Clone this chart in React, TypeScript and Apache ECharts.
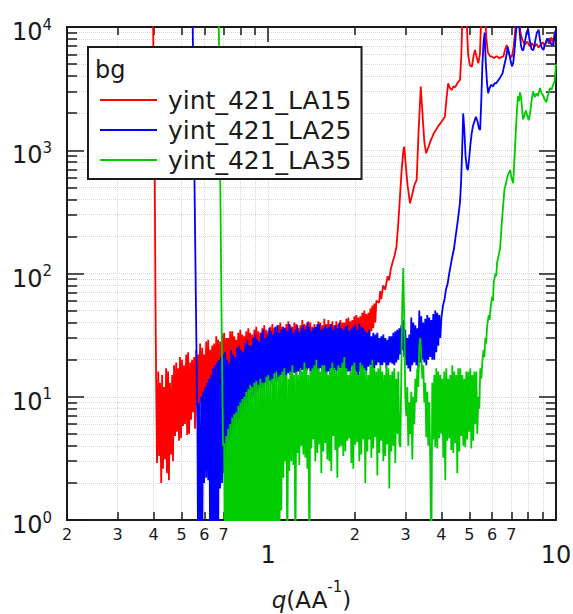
import React, { useEffect, useRef } from "react";
import * as echarts from "echarts";

const FONT = '"DejaVu Sans", Verdana, sans-serif';
const INK = "#1a1a1a";

// ---------- data ----------
const SERIES_NAMES = ["yint_421_LA15", "yint_421_LA25", "yint_421_LA35"];
const SERIES_COLORS = ["#ff0000", "#0000ff", "#00cc00"];

// shared q grid (AA^-1) for the noisy plateau regions
const Q = [
  0.408, 0.411, 0.415, 0.418, 0.421, 0.425, 0.428, 0.431, 0.435, 0.438,
  0.442, 0.445, 0.449, 0.452, 0.456, 0.460, 0.464, 0.467, 0.471, 0.475,
  0.479, 0.482, 0.486, 0.490, 0.494, 0.498, 0.502, 0.506, 0.510, 0.514,
  0.519, 0.523, 0.527, 0.531, 0.536, 0.540, 0.544, 0.548, 0.553, 0.557,
  0.562, 0.566, 0.571, 0.575, 0.580, 0.585, 0.590, 0.594, 0.599, 0.604,
  0.609, 0.614, 0.619, 0.624, 0.629, 0.634, 0.639, 0.644, 0.649, 0.654,
  0.660, 0.665, 0.670, 0.675, 0.681, 0.686, 0.692, 0.697, 0.703, 0.709,
  0.715, 0.720, 0.726, 0.732, 0.738, 0.744, 0.750, 0.756, 0.762, 0.768,
  0.774, 0.780, 0.787, 0.793, 0.800, 0.806, 0.813, 0.819, 0.826, 0.832,
  0.839, 0.846, 0.853, 0.859, 0.866, 0.873, 0.880, 0.887, 0.895, 0.902,
  0.909, 0.916, 0.924, 0.931, 0.939, 0.946, 0.954, 0.961, 0.969, 0.977,
  0.985, 0.993, 1.001, 1.009, 1.017, 1.025, 1.034, 1.042, 1.050, 1.058,
  1.067, 1.076, 1.085, 1.093, 1.102, 1.111, 1.120, 1.129, 1.138, 1.147,
  1.156, 1.165, 1.175, 1.184, 1.194, 1.203, 1.213, 1.223, 1.233, 1.243,
  1.253, 1.263, 1.273, 1.283, 1.294, 1.304, 1.314, 1.325, 1.336, 1.346,
  1.357, 1.368, 1.379, 1.390, 1.401, 1.412, 1.424, 1.435, 1.447, 1.458,
  1.470, 1.482, 1.494, 1.506, 1.518, 1.530, 1.542, 1.554, 1.567, 1.580,
  1.593, 1.605, 1.618, 1.631, 1.644, 1.657, 1.671, 1.684, 1.698, 1.711,
  1.725, 1.739, 1.753, 1.767, 1.781, 1.795, 1.810, 1.824, 1.839, 1.854,
  1.869, 1.884, 1.899, 1.914, 1.930, 1.945, 1.961, 1.976, 1.992, 2.008,
  2.025, 2.041, 2.057, 2.073, 2.090, 2.107, 2.124, 2.141, 2.158, 2.175,
  2.193, 2.211, 2.229, 2.247, 2.265, 2.283, 2.301, 2.319, 2.338, 2.357,
  2.376, 2.395, 2.414, 2.433, 2.453, 2.472, 2.492, 2.512, 2.533, 2.553,
  2.573, 2.594, 2.615, 2.636, 2.657, 2.678, 2.700, 2.721, 2.743, 2.765,
  2.787, 2.809, 2.832, 2.855, 2.878, 2.901, 2.924, 2.947, 2.971, 2.995,
  3.019, 3.043, 3.068, 3.092, 3.117, 3.142, 3.168, 3.193, 3.219, 3.245,
  3.271, 3.297, 3.323, 3.350, 3.377, 3.404, 3.431, 3.459, 3.487, 3.515,
  3.543, 3.571, 3.600, 3.629, 3.658, 3.687, 3.717, 3.747, 3.777, 3.807,
  3.838, 3.869, 3.900, 3.931, 3.963, 3.995, 4.027, 4.059, 4.092, 4.125,
  4.158, 4.191, 4.225, 4.259, 4.293, 4.327, 4.362, 4.397, 4.433, 4.468,
  4.504, 4.540, 4.577, 4.614, 4.651, 4.688, 4.726, 4.764, 4.802, 4.840,
  4.879, 4.918, 4.958, 4.998, 5.038, 5.078, 5.119, 5.160, 5.202, 5.244,
  5.286, 5.328, 5.371, 5.414, 5.457, 5.501, 5.545,
];

// ---- red: yint_421_LA15 ----
const RED_SPIKE = [[0.397, 20000], [0.403, 1000], [0.406, 60]];
const RED_NOISE_START = 0;
const RED_NOISE = [
  14, 2.9, 16, 3.3, 13, 2.0, 15, 2.6, 12, 3.1, 17, 2.4, 16, 2.1, 13, 3.4, 15, 3.0, 18, 4.8,
  19, 5.2, 17, 4.4, 21, 4.6, 20, 5.8, 18, 6.0, 22, 4.9, 23, 5.0, 19, 6.5, 20, 7.5, 21, 5.5,
  24, 8.5, 22, 7.2, 27, 9.0, 25, 8.0, 22, 10, 28, 8.8, 29, 9.5, 24, 10.5, 26, 11, 27, 9.2,
  31, 10.5, 29, 12, 28, 11, 32, 12.5, 33, 11, 30, 13.5, 30, 12.5, 34, 11.5, 34, 13, 31, 12,
  29, 12, 33, 14, 35, 13, 32, 12.5, 31, 13, 34, 14.5, 36, 12.8, 33, 14, 32, 13.5, 35, 15,
  37, 15, 34, 13.5, 33, 14, 36, 15.5, 38, 14.5, 35, 16, 34, 14, 37, 15, 39, 16, 36, 14.5,
  35, 15, 38, 16, 40, 16.5, 37, 15.5, 36, 15, 39, 17, 41, 16, 38, 15.5, 37, 16, 40, 17.5,
  39, 17.5, 36, 16, 38, 16.5, 42, 17, 39, 18, 38, 16.5, 41, 17.5, 40, 18, 37, 16, 39, 17,
  37, 17, 41, 18, 40, 18.5, 38, 16.5, 43, 17, 39, 18, 42, 19, 39, 17.5, 41, 19, 38, 18,
  41, 18, 39, 19.5, 42, 20, 40, 18.5, 40, 19, 43, 20, 44, 21, 41, 19.5, 42, 22, 45, 21,
  46, 24, 44, 23, 45, 26, 48, 25, 50, 28, 47, 30, 48, 32, 52, 34, 55, 36, 57, 40, 60,
];
const RED_TAIL = [
  [2.43, 58], [2.45, 72], [2.47, 62], [2.51, 80], [2.55, 74], [2.60, 95], [2.63, 88],
  [2.67, 110], [2.71, 125], [2.75, 140], [2.79, 165], [2.83, 250], [2.87, 420],
  [2.91, 700], [2.95, 1000], [2.97, 1070], [3.00, 800], [3.05, 520], [3.11, 371],
  [3.16, 430], [3.22, 520], [3.28, 574], [3.33, 1400], [3.39, 3280], [3.44, 1900],
  [3.49, 1150], [3.54, 945], [3.60, 1050], [3.66, 1180], [3.72, 1290], [3.76, 1370],
  [3.84, 1480], [3.92, 1600], [4.00, 1700], [4.07, 1800], [4.11, 1870], [4.17, 2700],
  [4.22, 3490], [4.28, 3200], [4.34, 3080], [4.40, 3300], [4.47, 3250], [4.54, 3500],
  [4.60, 3650], [4.64, 3720], [4.69, 6000], [4.74, 15000], [4.82, 16000], [4.89, 12000],
  [4.95, 6000], [5.02, 4900], [5.10, 4760], [5.17, 5800], [5.23, 6500], [5.30, 5700],
  [5.37, 5070], [5.44, 6000], [5.50, 12000], [5.58, 16000], [5.66, 14000], [5.73, 8000],
  [5.80, 6200], [5.90, 5800], [5.98, 5740], [6.10, 5600], [6.22, 5800], [6.34, 5600],
  [6.47, 5700], [6.57, 5800], [6.65, 6500], [6.74, 7150], [6.82, 6400], [6.92, 5800],
  [7.02, 5700], [7.12, 6800], [7.22, 9500], [7.30, 15000], [7.42, 14000], [7.52, 9000],
  [7.65, 7800], [7.80, 7200], [7.95, 7600], [8.10, 7000], [8.25, 7400], [8.40, 6900],
  [8.55, 7300], [8.70, 6800], [8.85, 7200], [9.00, 7500], [9.15, 7000], [9.30, 7850],
  [9.45, 7300], [9.60, 8200], [9.75, 7350], [9.90, 9000], [10.0, 9500],
];

// ---- blue: yint_421_LA25 ----
const BLUE_SPIKE = [[0.545, 20000], [0.553, 1000], [0.562, 40], [0.568, 5]];
const BLUE_NOISE_START = 42;
const BLUE_NOISE = [
  0.4, 9, 0.4, 10, 0.5, 11, 2.0, 12, 2.2, 13, 2.1, 14, 0.4, 15, 0.4, 17, 0.4, 18, 0.6, 19,
  0.5, 20, 1.8, 21, 2.0, 22, 2.4, 23, 2.6, 20, 3.5, 19, 4.0, 24, 4.4, 22, 5.0, 21, 5.5, 25,
  6.0, 26, 6.5, 24, 7.0, 23, 7.5, 27, 8.0, 29, 8.2, 26, 9.0, 26, 9.5, 30, 10, 32, 10.5, 29,
  11, 28, 12, 33, 11.5, 35, 12, 30, 13, 32, 12.5, 36, 13.5, 34, 12.5, 32, 14, 37, 13, 38,
  13.5, 33, 14.5, 35, 15, 37, 14, 36, 14, 34, 15.5, 39, 15, 36, 16, 33, 15.5, 35, 15, 38,
  16, 33, 15, 36, 16.5, 38, 15.5, 35, 15.5, 40, 17, 37, 16, 34, 15, 36, 16, 37, 16.5, 39,
  15, 39, 17, 35, 16, 36, 15.5, 38, 14.5, 36, 16, 37, 15, 39, 17, 35, 16.5, 38, 16, 36,
  16.5, 40, 17, 36, 17, 35, 15.5, 37, 15.5, 38, 16, 34, 16, 36, 17.5, 37, 16.5, 39, 15, 35,
  15, 39, 16, 37, 17, 36, 16.5, 34, 16, 33, 17.5, 35, 18, 31, 17, 33, 17, 32, 18, 33,
  19, 30, 18, 31, 18, 32, 19, 30, 17, 29, 18, 31, 19, 31, 18.5, 33, 18, 34, 19, 35,
  20, 36, 22, 38, 24, 42, 21, 35, 18, 30, 17, 32, 16, 44, 18, 40, 19, 38, 18, 36,
  17, 50, 19, 45, 20, 40, 19, 43, 18, 46, 20, 44, 21, 42, 20, 47, 20, 50, 23, 48,
  26, 46, 30,
];
const BLUE_TAIL = [
  [4.00, 44], [4.05, 55], [4.10, 62], [4.15, 75], [4.20, 82], [4.25, 98], [4.31, 118],
  [4.37, 140], [4.42, 158], [4.48, 200], [4.54, 250], [4.60, 320], [4.64, 380],
  [4.68, 550], [4.72, 1000], [4.76, 1990], [4.80, 1500], [4.85, 900], [4.90, 720],
  [4.94, 690], [4.99, 850], [5.04, 1100], [5.09, 1350], [5.14, 1550], [5.20, 1700],
  [5.27, 1870], [5.34, 1700], [5.40, 1500], [5.45, 1460], [5.50, 2500], [5.55, 5000],
  [5.60, 7400], [5.65, 9000], [5.70, 5200], [5.76, 3500], [5.81, 2900], [5.88, 3200],
  [5.96, 3400], [6.05, 3300], [6.12, 3500], [6.20, 3490], [6.30, 3700], [6.40, 3900],
  [6.52, 4200], [6.60, 4800], [6.70, 5600], [6.80, 6900], [6.88, 6000], [6.96, 5300],
  [7.03, 4800], [7.10, 5070], [7.18, 6500], [7.26, 9000], [7.33, 12000], [7.40, 13000],
  [7.48, 9000], [7.56, 7000], [7.63, 6500], [7.70, 6500], [7.80, 7600], [7.90, 9000],
  [8.00, 9600], [8.10, 7800], [8.22, 6600], [8.35, 6500], [8.45, 7500], [8.58, 9000],
  [8.70, 9500], [8.80, 7800], [8.92, 6800], [9.05, 6500], [9.15, 7200], [9.28, 7800],
  [9.40, 8000], [9.52, 7600], [9.65, 7200], [9.80, 7200], [9.90, 8500], [10.0, 9500],
];

// ---- green: yint_421_LA35 ----
const GREEN_SPIKE = [[0.672, 20000], [0.680, 1000], [0.689, 40], [0.697, 4]];
const GREEN_NOISE_START = 68;
const GREEN_NOISE = [
  4.2, 0.3, 4.8, 0.3, 5.5, 0.4, 6.0, 0.3, 6.8, 0.3, 7.2, 0.4, 7.5, 0.3, 8.4, 0.3, 9.0, 0.4, 9.6, 0.3,
  10, 0.3, 11, 0.4, 11.5, 0.3, 12.5, 0.3, 12, 0.4, 13, 0.3, 13.5, 0.3, 12.5, 0.4, 14, 0.3, 13, 0.3,
  13, 0.4, 14.5, 0.3, 15, 0.3, 13.5, 0.4, 14, 0.3, 15.5, 0.3, 16, 0.4, 14.5, 0.3, 15, 1.2, 16, 2.2,
  17, 3.0, 15, 0.4, 14, 2.5, 16, 3.0, 18, 2.8, 15, 0.4, 16, 3.5, 15, 2.8, 17, 4.0, 16, 3.4,
  19, 3.2, 17, 2.6, 15, 0.4, 16, 3.8, 17, 4.5, 18, 3.0, 20, 3.5, 17, 4.1, 16, 2.4, 18, 3.6,
  18, 4.2, 16, 3.1, 15, 3.0, 17, 2.5, 19, 4.8, 17, 3.7, 16, 2.2, 18, 3.9, 17, 4.0, 19, 3.3,
  21, 3.6, 17, 4.4, 15, 4.6, 16, 2.9, 18, 2.6, 19, 4.1, 16, 4.3, 15, 3.0, 19, 3.4, 18, 4.5,
  17, 2.0, 16, 3.6, 15, 4.5, 18, 3.2, 20, 3.8, 17, 4.7, 16, 2.3, 17, 3.5, 18, 4.4, 16, 3.0,
  15, 3.3, 18, 4.1, 17, 1.8, 15, 3.6, 16, 4.0, 17, 2.9, 14, 5.0, 16, 4.2,
  3.9, 15, 60, 111, 40, 10, 7.0, 12, 4.0, 9, 5.0, 11, 3.1, 10, 6.0, 14,
  9, 17, 12, 25, 30, 22, 14, 18, 9, 13, 4.7, 11, 4.0, 9, 3.0, 0.4,
  13, 4.5, 15, 3.9, 17, 3.8, 16, 4.6, 15, 5.0, 14, 3.2, 16, 2.1, 17, 4.4, 14, 4.6, 15, 3.7,
  18, 3.5, 16, 4.2, 15, 2.4, 17, 3.6, 17, 4.8, 15, 4.0, 14, 3.9, 16, 4.5, 16, 5.2, 17, 3.8,
  15, 4.4, 16, 6.0, 16, 5.0, 10, 8, 17, 14, 19,
];
const GREEN_TAIL = [
  [5.60, 24], [5.64, 21], [5.68, 30], [5.72, 27], [5.76, 37], [5.84, 46], [5.88, 42],
  [5.92, 52], [6.00, 65], [6.04, 60], [6.08, 85], [6.16, 100], [6.20, 95], [6.24, 122],
  [6.32, 140], [6.39, 157], [6.46, 230], [6.54, 340], [6.62, 480], [6.68, 520],
  [6.74, 574], [6.82, 640], [6.93, 690], [7.00, 600], [7.10, 540], [7.18, 900],
  [7.26, 1500], [7.32, 2150], [7.38, 2750], [7.44, 2500], [7.50, 2950], [7.56, 2700],
  [7.62, 2200], [7.68, 1780], [7.76, 1900], [7.86, 2100], [7.95, 1900], [8.04, 1750],
  [8.13, 2000], [8.22, 2500], [8.32, 3000], [8.45, 2700], [8.55, 2900], [8.66, 2750],
  [8.80, 3200], [8.90, 2900], [9.01, 2800], [9.12, 2600], [9.25, 2450], [9.38, 2800],
  [9.53, 3200], [9.65, 3100], [9.77, 3400], [9.88, 3600], [10.0, 5000],
];

// axis tick / label values
const X_MINOR_TICKS = [0.2, 0.3, 0.4, 0.5, 0.6, 0.7, 0.8, 0.9, 2, 3, 4, 5, 6, 7, 8, 9];
const X_MAJOR_TICKS = [1, 10];
const X_SMALL_LABELS = [0.2, 0.3, 0.4, 0.5, 0.6, 0.7, 2, 3, 4, 5, 6, 7];
const Y_MINOR_TICKS = [
  2, 3, 4, 5, 6, 7, 8, 9,
  20, 30, 40, 50, 60, 70, 80, 90,
  200, 300, 400, 500, 600, 700, 800, 900,
  2000, 3000, 4000, 5000, 6000, 7000, 8000, 9000,
];
const Y_MAJOR_TICKS = [1, 10, 100, 1000, 10000];

function build(spike: number[][], start: number, noise: number[], tail: number[][]) {
  const pts: number[][] = spike.map((p) => [p[0], p[1]]);
  noise.forEach((v, i) => pts.push([Q[start + i], v]));
  tail.forEach((p) => pts.push([p[0], p[1]]));
  return pts;
}

export default function App() {
  const ref = useRef<HTMLDivElement>(null);

  useEffect(() => {
    document.body.style.margin = "0";
    if (!ref.current) return;
    const chart = echarts.init(ref.current, undefined, { renderer: "svg" });

    const datasets = [
      build(RED_SPIKE, RED_NOISE_START, RED_NOISE, RED_TAIL),
      build(BLUE_SPIKE, BLUE_NOISE_START, BLUE_NOISE, BLUE_TAIL),
      build(GREEN_SPIKE, GREEN_NOISE_START, GREEN_NOISE, GREEN_TAIL),
    ];

    const tickLine = { color: INK, width: 1.5 };
    const frame = { color: INK, width: 2 };
    const gridLine = { color: "#d6d6d6", type: "dotted" as const, width: 1 };
    const logX = { type: "log" as const, logBase: 10, min: 0.2, max: 10, gridIndex: 0 };
    const logY = { type: "log" as const, logBase: 10, min: 1, max: 10000, gridIndex: 0 };
    const off = { show: false };

    const option: any = {
      animation: false,
      backgroundColor: "#ffffff",
      textStyle: { fontFamily: FONT },
      grid: {
        left: 67,
        right: 17,
        top: 27,
        bottom: 94,
        containLabel: false,
        outerBoundsMode: "none",
        show: false,
      },
      xAxis: [
        {
          ...logX,
          position: "bottom",
          axisLine: { show: true, onZero: false, lineStyle: frame },
          axisTick: { show: true, inside: true, length: 8, customValues: X_MINOR_TICKS, lineStyle: tickLine },
          axisLabel: {
            show: true,
            customValues: X_SMALL_LABELS,
            formatter: (v: number) => String(v < 1 ? Math.round(v * 10) : Math.round(v)),
            fontSize: 16,
            lineHeight: 16,
            margin: 6,
            color: INK,
            fontFamily: FONT,
          },
          splitLine: { show: true, lineStyle: gridLine },
          minorTick: off,
          minorSplitLine: off,
          name: "{i|q}{n|(AA}{s|-1}{n|)}",
          nameLocation: "middle",
          nameGap: 59,
          nameTextStyle: {
            color: INK,
            fontFamily: FONT,
            rich: {
              i: { fontSize: 23, fontStyle: "italic", lineHeight: 42, fontFamily: FONT, color: INK },
              n: { fontSize: 23, lineHeight: 42, fontFamily: FONT, color: INK },
              s: { fontSize: 15, verticalAlign: "top", fontFamily: FONT, color: INK },
            },
          },
        },
        {
          ...logX,
          position: "bottom",
          axisLine: { show: false, onZero: false },
          axisTick: { show: true, inside: true, length: 15, customValues: X_MAJOR_TICKS, lineStyle: tickLine },
          axisLabel: {
            show: true,
            customValues: X_MAJOR_TICKS,
            formatter: (v: number) => String(Math.round(v)),
            fontSize: 24,
            lineHeight: 24,
            margin: 23,
            color: INK,
            fontFamily: FONT,
          },
          splitLine: { show: true, lineStyle: gridLine },
          minorTick: off,
          minorSplitLine: off,
        },
        {
          ...logX,
          position: "top",
          axisLine: { show: true, onZero: false, lineStyle: frame },
          axisTick: { show: true, inside: true, length: 8, customValues: X_MINOR_TICKS, lineStyle: tickLine },
          axisLabel: off,
          splitLine: off,
          minorTick: off,
        },
        {
          ...logX,
          position: "top",
          axisLine: { show: false, onZero: false },
          axisTick: { show: true, inside: true, length: 15, customValues: X_MAJOR_TICKS, lineStyle: tickLine },
          axisLabel: off,
          splitLine: off,
          minorTick: off,
        },
      ],
      yAxis: [
        {
          ...logY,
          position: "left",
          axisLine: { show: true, onZero: false, lineStyle: frame },
          axisTick: { show: true, inside: true, length: 10, customValues: Y_MINOR_TICKS, lineStyle: tickLine },
          axisLabel: off,
          splitLine: { show: true, lineStyle: gridLine },
          minorTick: off,
          minorSplitLine: off,
        },
        {
          ...logY,
          position: "left",
          axisLine: { show: false, onZero: false },
          axisTick: { show: true, inside: true, length: 17, customValues: Y_MAJOR_TICKS, lineStyle: tickLine },
          axisLabel: {
            show: true,
            customValues: Y_MAJOR_TICKS,
            formatter: (v: number) => `{b|10}{s|${Math.round(Math.log10(v))}}`,
            margin: 15,
            padding: [10, 0, 0, 0],
            color: INK,
            fontFamily: FONT,
            rich: {
              b: { fontSize: 24, lineHeight: 30, fontFamily: FONT, color: INK },
              s: { fontSize: 15, lineHeight: 14, verticalAlign: "top", fontFamily: FONT, color: INK },
            },
          },
          splitLine: { show: true, lineStyle: gridLine },
          minorTick: off,
          minorSplitLine: off,
        },
        {
          ...logY,
          position: "right",
          axisLine: { show: true, onZero: false, lineStyle: frame },
          axisTick: { show: true, inside: true, length: 10, customValues: Y_MINOR_TICKS, lineStyle: tickLine },
          axisLabel: off,
          splitLine: off,
          minorTick: off,
        },
        {
          ...logY,
          position: "right",
          axisLine: { show: false, onZero: false },
          axisTick: { show: true, inside: true, length: 17, customValues: Y_MAJOR_TICKS, lineStyle: tickLine },
          axisLabel: off,
          splitLine: off,
          minorTick: off,
        },
      ],
      legend: {
        show: true,
        left: 88,
        top: 47,
        orient: "vertical",
        padding: [38, 10, 4, 12],
        backgroundColor: "#ffffff",
        borderColor: INK,
        borderWidth: 2,
        borderRadius: 0,
        itemWidth: 57,
        itemHeight: 2,
        itemGap: 0,
        icon: "rect",
        selectedMode: false,
        itemStyle: { borderWidth: 0 },
        textStyle: {
          fontSize: 25,
          lineHeight: 30,
          fontFamily: FONT,
          color: INK,
          padding: [0, 0, 0, 6],
        },
        data: SERIES_NAMES,
        z: 10,
      },
      graphic: [
        {
          type: "text",
          left: 95,
          top: 58,
          z: 100,
          zlevel: 0,
          style: { text: "bg", fill: INK, font: `24px ${FONT}` },
        },
      ],
      series: SERIES_NAMES.map((name, k) => ({
        type: "line",
        name,
        xAxisIndex: 0,
        yAxisIndex: 0,
        data: datasets[k],
        showSymbol: false,
        symbol: "none",
        clip: true,
        silent: true,
        color: SERIES_COLORS[k],
        itemStyle: { color: SERIES_COLORS[k] },
        lineStyle: { color: SERIES_COLORS[k], width: 1.8 },
        emphasis: { disabled: true },
        z: 2 + k,
      })),
    };

    chart.setOption(option);
    return () => {
      chart.dispose();
    };
  }, []);

  return <div ref={ref} style={{ width: 573, height: 614 }} />;
}
